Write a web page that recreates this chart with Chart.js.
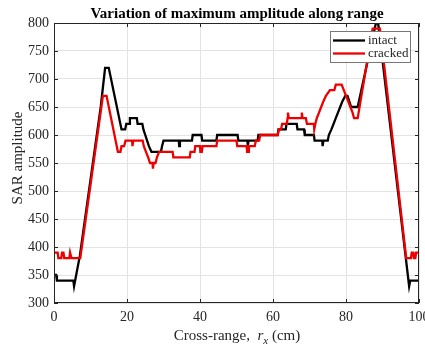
<!DOCTYPE html>
<html>
<head>
<meta charset="utf-8">
<script src="https://cdn.jsdelivr.net/npm/chart.js@4.4.1/dist/chart.umd.min.js"></script>
<style>
  html, body { margin: 0; padding: 0; overflow: hidden; background: #fff; }
  canvas { display: block; }
</style>
</head>
<body>
<canvas id="chart" width="440" height="349" style="width:440px;height:349px"></canvas>
<script>
// Max SAR amplitude vs cross-range (staircase corners)
const intactX = [0, 0.6, 0.8, 5.3, 5.5, 7.1, 12.8, 14.0, 15.0, 18.5, 19.5, 19.8, 20.6, 20.8, 22.7, 22.9, 24.2, 24.5, 25.0, 25.5, 26.0, 26.7,
  29.3, 29.6, 30.0, 34.2, 34.3, 34.5, 37.8, 38.0, 40.4, 40.6, 44.5, 44.7, 50.3, 50.5, 53.0, 53.1, 53.3, 55.8, 56.0, 61.3, 61.5,
  63.5, 63.7, 66.5, 66.7, 68.5, 68.7, 71.2, 71.4, 73.5, 73.6, 73.8, 75.0, 75.3, 76.0, 76.6, 77.2, 77.8, 78.4, 79.0, 79.8, 80.4,
  80.9, 81.4, 83.2, 88.2, 88.8, 97.3, 97.6, 100];
const intactY = [350, 350, 340, 340, 330, 385, 650, 720, 720, 610, 610, 620, 620, 630, 630, 620, 620, 610, 600, 590, 580, 570,
  570, 580, 590, 590, 580, 590, 590, 600, 600, 590, 590, 600, 600, 590, 590, 580, 590, 590, 600, 600, 610,
  610, 620, 620, 610, 610, 600, 600, 590, 590, 580, 590, 590, 600, 610, 620, 630, 640, 650, 660, 670, 670,
  660, 650, 650, 800, 800, 330, 340, 340];

const crackedX = [0, 1.0, 1.2, 2.0, 2.2, 2.6, 2.8, 4.2, 4.4, 4.6, 4.8, 7.2, 13.4, 14.4, 17.5, 18.2, 18.5, 19.2, 19.6, 21.4, 21.5, 21.7,
  24.3, 24.6, 25.2, 25.8, 26.3, 27.0, 27.1, 27.3, 27.8, 28.2, 28.8, 32.5, 32.7, 37.2, 37.4, 38.5, 38.7, 40.0, 40.1, 40.5, 40.7,
  44.5, 44.7, 50.0, 50.2, 52.8, 52.9, 53.3, 53.4, 55.0, 55.3, 56.2, 56.5, 61.3, 61.6, 62.2, 62.5, 63.8, 64.0, 64.1, 64.3,
  67.8, 67.9, 68.1, 69.0, 69.3, 71.2, 71.3, 71.6, 72.0, 72.6, 73.2, 73.8, 74.5, 75.6, 76.8, 77.2, 78.8, 79.4, 80.0, 80.6,
  81.2, 81.8, 82.2, 83.2, 87.3, 89.3, 96.5, 97.8, 98.0, 98.4, 98.6, 99.0, 99.2, 100];
const crackedY = [390, 390, 380, 380, 390, 390, 380, 380, 390, 390, 380, 380, 670, 670, 570, 570, 580, 580, 590, 590, 580, 590,
  590, 580, 570, 560, 550, 550, 540, 550, 550, 560, 570, 570, 560, 560, 570, 570, 580, 580, 570, 570, 580,
  580, 590, 590, 580, 580, 570, 570, 580, 580, 590, 590, 600, 600, 610, 610, 620, 620, 630, 640, 630,
  630, 640, 630, 630, 620, 620, 610, 620, 630, 640, 650, 660, 670, 680, 680, 690, 690, 680, 670, 660,
  650, 640, 630, 630, 790, 790, 380, 380, 390, 390, 380, 380, 390, 390];

const seriesNames = ["intact", "cracked"];
const seriesColors = ["#000000", "#ee0000"];
const titleText = "Variation of maximum amplitude along range";
const yTitle = "SAR amplitude";

const SERIF = "'Liberation Serif', 'DejaVu Serif', serif";

function toPoints(xs, ys) {
  return xs.map((x, i) => ({ x: x, y: ys[i] }));
}

// draws box, inner ticks, titles and the boxed legend (MATLAB look)
const matlabFrame = {
  id: "matlabFrame",
  afterDraw(chart) {
    const ctx = chart.ctx;
    const a = chart.chartArea;
    const xs = chart.scales.x, ys = chart.scales.y;
    ctx.save();

    // axes box
    ctx.strokeStyle = "#262626";
    ctx.lineWidth = 1;
    ctx.strokeRect(a.left + 0.5, a.top + 0.5, a.right - a.left - 1, a.bottom - a.top - 1);

    // inner ticks
    ctx.beginPath();
    xs.ticks.forEach(t => {
      const px = Math.round(xs.getPixelForValue(t.value)) + 0.5;
      ctx.moveTo(px, a.bottom); ctx.lineTo(px, a.bottom - 4);
      ctx.moveTo(px, a.top); ctx.lineTo(px, a.top + 4);
    });
    ys.ticks.forEach(t => {
      const py = Math.round(ys.getPixelForValue(t.value)) + 0.5;
      ctx.moveTo(a.left, py); ctx.lineTo(a.left + 4, py);
      ctx.moveTo(a.right, py); ctx.lineTo(a.right - 4, py);
    });
    ctx.stroke();

    // title
    ctx.fillStyle = "#000";
    ctx.font = "bold 15px " + SERIF;
    ctx.textAlign = "center";
    ctx.textBaseline = "alphabetic";
    ctx.fillText(titleText, 237, 18);

    // y title
    ctx.save();
    ctx.translate(22, 158);
    ctx.rotate(-Math.PI / 2);
    ctx.font = "15px " + SERIF;
    ctx.fillStyle = "#262626";
    ctx.textAlign = "center";
    ctx.fillText(yTitle, 0, 0);
    ctx.restore();

    // x title with italic r and subscript x
    ctx.fillStyle = "#262626";
    ctx.textAlign = "left";
    const base = 340;
    const parts = [
      { t: "Cross-range,  ", f: "15px " + SERIF, dy: 0 },
      { t: "r", f: "italic 15px " + SERIF, dy: 0 },
      { t: "x", f: "italic 11px " + SERIF, dy: 4 },
      { t: " (cm)", f: "15px " + SERIF, dy: 0 }
    ];
    let total = 0;
    parts.forEach(p => { ctx.font = p.f; total += ctx.measureText(p.t).width; });
    let cx = 237 - total / 2;
    parts.forEach(p => {
      ctx.font = p.f;
      ctx.fillText(p.t, cx, base + p.dy);
      cx += ctx.measureText(p.t).width;
    });

    // legend
    const lx = 330, ly = 31.5, lw = 80, lh = 31;
    ctx.fillStyle = "#fff";
    ctx.fillRect(lx, ly, lw, lh);
    ctx.strokeStyle = "#777";
    ctx.lineWidth = 1;
    ctx.strokeRect(lx + 0.5, ly, lw, lh);
    ctx.font = "13px " + SERIF;
    ctx.textBaseline = "middle";
    seriesNames.forEach((name, i) => {
      const yy = ly + 9 + i * 13;
      ctx.strokeStyle = seriesColors[i];
      ctx.lineWidth = 2.3;
      ctx.beginPath();
      ctx.moveTo(lx + 3, yy); ctx.lineTo(lx + 35, yy);
      ctx.stroke();
      ctx.fillStyle = "#262626";
      ctx.fillText(name, lx + 38, yy);
    });

    ctx.restore();
  }
};

new Chart(document.getElementById("chart"), {
  type: "line",
  data: {
    datasets: [
      {
        label: seriesNames[0],
        data: toPoints(intactX, intactY),
        borderColor: seriesColors[0],
        borderWidth: 2.3,
        pointRadius: 0,
        tension: 0,
        order: 1
      },
      {
        label: seriesNames[1],
        data: toPoints(crackedX, crackedY),
        borderColor: seriesColors[1],
        borderWidth: 2.3,
        pointRadius: 0,
        tension: 0,
        order: 0
      }
    ]
  },
  options: {
    responsive: false,
    animation: false,
    layout: { padding: { top: 23, right: 21, left: 0, bottom: 0 } },
    plugins: {
      legend: { display: false },
      title: { display: false },
      tooltip: { enabled: false }
    },
    scales: {
      x: {
        type: "linear",
        min: 0,
        max: 100,
        ticks: { stepSize: 20, padding: 6, color: "#262626", font: { family: SERIF, size: 14 } },
        grid: { color: "#e3e3e3", drawTicks: false },
        border: { display: false },
        afterFit(scale) { scale.height = 46; }
      },
      y: {
        min: 300,
        max: 800,
        ticks: { stepSize: 50, padding: 5, color: "#262626", font: { family: SERIF, size: 14 } },
        grid: { color: "#e3e3e3", drawTicks: false },
        border: { display: false },
        afterFit(scale) { scale.width = 54; }
      }
    }
  },
  plugins: [matlabFrame]
});
</script>
</body>
</html>
